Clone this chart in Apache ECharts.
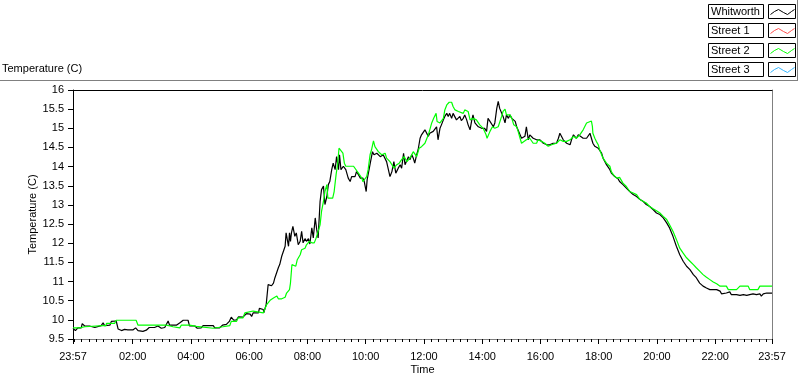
<!DOCTYPE html>
<html>
<head>
<meta charset="utf-8">
<script src="https://cdn.jsdelivr.net/npm/echarts@6/dist/echarts.min.js"></script>
<style>
html,body{margin:0;padding:0;background:#fff;}
#chart{width:800px;height:380px;}
</style>
</head>
<body>
<div id="chart"></div>
<script>
// ---- data (x = minutes since 23:57 start, y = temperature in C) ----
const seriesNames = ['Whitworth', 'Street 1', 'Street 2', 'Street 3'];
const seriesColors = ['#000000', '#ff4d4d', '#00ff00', '#33b5ff'];
const startClockMinutes = 23 * 60 + 57;
const xLabelValues = [0, 123, 243, 363, 483, 603, 723, 843, 963, 1083, 1203, 1323, 1440];
const yTickValues = [9.5, 10, 10.5, 11, 11.5, 12, 12.5, 13, 13.5, 14, 14.5, 15, 15.5, 16];

const whitworth = [
[0,9.78],[5,9.72],[10,9.79],[17,9.79],[19,9.90],[24,9.84],[34,9.84],[38,9.79],[45,9.80],[48,9.85],[58,9.85],[62,9.92],[65,9.85],[76,9.86],[79,9.96],[89,9.97],[93,9.76],[100,9.72],[106,9.75],[113,9.74],[117,9.70],[124,9.74],[129,9.79],[134,9.72],[144,9.70],[151,9.73],[157,9.80],[168,9.80],[175,9.84],[182,9.78],[189,9.80],[196,9.97],[199,9.86],[213,9.86],[221,9.93],[227,9.99],[237,9.99],[240,9.84],[251,9.84],[256,9.78],[264,9.79],[268,9.85],[289,9.85],[292,9.79],[302,9.79],[308,9.86],[316,9.88],[322,9.96],[326,10.07],[331,9.99],[337,10.00],[341,10.08],[350,10.07],
[357,10.16],[365,10.15],[368,10.09],[371,10.18],[382,10.18],[384,10.30],[392,10.27],[393,10.18],[398,10.40],[402,10.92],[406,10.96],[409,10.89],[413,10.96],[416,11.10],[420,11.14],[423,11.36],[426,11.45],[430,11.66],[433,11.70],[437,11.92],[439,12.27],[444,11.92],[446,12.27],[448,12.05],[450,12.27],[453,12.44],[457,12.18],[460,12.27],[464,11.96],[468,12.05],[471,12.31],[474,12.01],[478,12.12],[481,12.05],[485,12.12],[488,11.98],[492,12.40],[495,12.14],[499,12.66],[502,12.36],[505,12.14],[509,13.09],[512,13.40],[516,13.49],[519,13.01],[523,13.22],[526,13.53],[529,13.61],[533,13.92],[536,14.09],[540,13.92],[543,14.26],[547,13.92],[549,14.31],[552,13.92],[557,14.01],[562,13.92],[567,13.70],[571,13.61],[574,13.74],[578,13.70],[581,13.74],[584,13.87],[588,13.79],[592,13.70],[597,13.70],[600,13.61],[604,13.35],[606,13.66],[610,13.61],[613,14.13],[617,14.39],[620,14.31],[626,14.35],[633,14.26],[639,14.31],[646,14.13],[650,14.09],[653,13.74],[657,13.87],[661,14.13],[665,13.83],[670,13.96],[674,14.05],[677,13.96],[681,14.35],[684,14.05],[688,14.09],[691,14.26],[694,14.18],[698,14.31],[701,14.22],[704,14.09],[708,14.31],[711,14.44],[715,14.74],[718,14.83],[722,14.79],[725,14.96],[728,15.00],[732,14.79],[735,14.87],[739,14.83],[742,14.92],[746,14.87],[749,15.04],[752,14.70],[756,15.00],[759,15.09],[763,15.22],[766,15.31],[770,15.39],[773,15.31],[776,15.39],[780,15.26],[783,15.39],[787,15.44],[790,15.22],[794,15.22],[797,15.31],[800,15.20],[804,15.26],[807,15.35],[811,15.22],[814,15.09],[818,14.96],[821,15.18],[824,15.35],[828,15.14],[831,15.18],[835,15.04],[838,15.09],[842,15.00],[845,14.96],[848,15.00],[852,14.92],[855,15.26],[859,15.18],[862,15.14],[866,15.04],[869,15.14],[873,15.52],[876,15.70],[879,15.52],[883,15.48],[886,15.31],[890,15.14],[893,15.35],[897,15.26],[900,15.35],[904,15.26],[907,15.31],[911,15.18],[914,15.04],[917,15.00],[921,14.83],[924,14.74],[928,14.70],[931,14.79],[934,15.04],[938,14.70],[941,14.83],[945,14.79],[948,14.74],[955,14.70],[962,14.70],[969,14.61],[972,14.66],[976,14.57],[979,14.53],[982,14.57],[989,14.61],[996,14.61],[1000,14.74],[1003,14.87],[1007,14.83],[1010,14.70],[1013,14.66],[1017,14.61],[1020,14.57],[1024,14.57],[1027,14.70],[1031,14.83],[1037,14.74],[1041,14.83],[1044,14.80],[1051,14.74],[1058,14.74],[1061,14.79],[1065,14.87],[1068,14.74],[1071,14.61],[1075,14.53],[1078,14.57],[1082,14.48],[1085,14.44],[1089,14.35],[1092,14.22],[1096,14.18],[1099,14.05],[1102,14.05],[1106,13.92],[1109,13.83],[1113,13.79],[1116,13.74],[1120,13.70],[1123,13.68],[1126,13.61],[1130,13.66],[1133,13.53],[1137,13.48],[1140,13.44],[1147,13.35],[1154,13.27],[1161,13.22],[1168,13.14],[1175,13.09],[1181,13.01],[1188,12.96],[1195,12.88],[1202,12.79],[1209,12.75],[1216,12.66],[1223,12.53],[1229,12.40],[1236,12.18],[1243,11.92],[1250,11.70],[1257,11.53],[1264,11.40],[1271,11.31],[1278,11.18],[1284,11.10],[1291,10.96],[1298,10.88],[1305,10.83],[1312,10.79],[1319,10.79],[1326,10.79],[1333,10.75],[1336,10.68],[1339,10.70],[1346,10.70],[1353,10.73],[1356,10.66],[1360,10.70],[1367,10.66],[1374,10.64],[1381,10.66],[1388,10.64],[1394,10.66],[1401,10.68],[1408,10.66],[1415,10.68],[1418,10.62],[1422,10.68],[1429,10.70],[1436,10.70],[1440,10.70]
];

const street1 = [];

const street2 = [
[0,9.79],[14,9.79],[17,9.82],[24,9.82],[27,9.85],[62,9.85],[65,9.82],[68,9.85],[69,9.91],[86,9.91],[89,9.99],[130,9.99],[134,9.86],[192,9.86],[200,9.84],[206,9.82],[210,9.79],[220,9.79],[223,9.86],[240,9.86],[244,9.83],[254,9.83],[256,9.78],[289,9.78],[292,9.82],[309,9.82],[313,9.85],[323,9.85],[326,9.96],[337,9.96],[340,10.05],[350,10.05],[351,10.10],[354,10.18],[358,10.23],[371,10.23],[375,10.18],[392,10.18],[396,10.23],[399,10.40],[406,10.51],[413,10.57],[420,10.62],[423,10.55],[430,10.55],[433,10.59],[437,10.59],[440,10.70],[446,10.79],[448,10.96],[451,11.44],[455,11.49],[459,11.40],[462,11.57],[468,11.70],[471,11.83],[478,11.87],[481,11.96],[487,12.05],[492,12.01],[497,12.01],[499,12.05],[501,12.14],[505,12.14],[509,12.48],[512,12.83],[516,13.09],[519,13.35],[523,13.53],[525,13.18],[535,13.18],[538,13.35],[542,13.79],[545,14.05],[548,14.48],[551,14.44],[556,14.35],[559,14.09],[562,14.01],[565,13.96],[569,14.01],[578,14.01],[581,13.96],[588,13.83],[595,13.70],[597,13.61],[605,13.74],[608,13.92],[612,14.31],[615,14.44],[619,14.67],[622,14.52],[629,14.39],[636,14.31],[643,14.35],[646,14.22],[653,14.13],[657,14.05],[661,13.96],[667,14.05],[672,14.09],[677,14.18],[682,14.26],[688,14.13],[694,14.22],[701,14.39],[708,14.26],[713,14.48],[718,14.52],[725,14.61],[732,14.83],[735,14.96],[739,15.14],[743,15.26],[748,15.39],[750,15.18],[756,15.14],[763,15.26],[766,15.48],[770,15.61],[775,15.68],[780,15.68],[783,15.57],[787,15.48],[790,15.52],[794,15.44],[797,15.39],[804,15.39],[807,15.48],[814,15.44],[818,15.22],[824,15.26],[831,15.22],[838,15.09],[845,15.00],[851,14.83],[853,14.74],[859,14.92],[864,15.04],[869,15.00],[876,15.04],[879,15.09],[883,15.31],[886,15.44],[890,15.50],[893,15.35],[900,15.35],[904,15.26],[908,15.09],[914,15.04],[917,14.92],[921,14.74],[924,14.61],[928,14.61],[934,14.70],[941,14.74],[948,14.61],[955,14.61],[958,14.70],[965,14.66],[972,14.61],[979,14.53],[986,14.57],[996,14.61],[1003,14.70],[1010,14.66],[1017,14.66],[1024,14.70],[1031,14.79],[1037,14.74],[1044,14.83],[1051,14.96],[1058,15.14],[1061,15.19],[1068,15.19],[1070,15.05],[1071,14.87],[1075,14.74],[1078,14.66],[1082,14.57],[1085,14.44],[1089,14.31],[1092,14.22],[1099,14.09],[1106,14.01],[1109,13.87],[1113,13.79],[1120,13.70],[1126,13.72],[1133,13.57],[1140,13.48],[1147,13.35],[1154,13.31],[1161,13.27],[1168,13.14],[1175,13.09],[1181,13.05],[1188,12.96],[1195,12.90],[1202,12.85],[1209,12.79],[1216,12.70],[1223,12.62],[1229,12.48],[1236,12.31],[1243,12.10],[1250,11.87],[1257,11.74],[1264,11.62],[1271,11.53],[1278,11.44],[1284,11.36],[1291,11.27],[1298,11.18],[1305,11.11],[1312,11.05],[1319,10.99],[1326,10.94],[1333,10.88],[1346,10.88],[1350,10.79],[1367,10.79],[1374,10.88],[1391,10.88],[1394,10.79],[1411,10.79],[1415,10.88],[1440,10.88]
];

const street3 = [];

// ---- helpers ----
const FONT = 'Liberation Sans';
function clockLabel(m) {
  const t = ((Math.round(m) + startClockMinutes) % 1440 + 1440) % 1440;
  const h = Math.floor(t / 60), mm = t % 60;
  return (h < 10 ? '0' : '') + h + ':' + (mm < 10 ? '0' : '') + mm;
}
const minorTickValues = [];
for (let k = 0; k * 15 + 3 < 1440; k++) minorTickValues.push(k * 15 + 3);

// legend drawn as LabVIEW-style boxes
const legendGraphics = [];
const iconShape = [[2, 10], [6, 7], [10, 5], [15, 8], [19, 10], [23, 7], [26, 5]];
seriesNames.forEach(function (name, i) {
  const top = Math.round(4 + i * 19.3) + 0.5;
  legendGraphics.push({ type: 'rect', shape: { x: 708.5, y: top, width: 55, height: 14 }, style: { fill: '#fff', stroke: '#000', lineWidth: 1 }, silent: true });
  legendGraphics.push({ type: 'text', x: 711, y: top + 7.5, style: { text: name, font: '11px "' + FONT + '"', fill: '#000', verticalAlign: 'middle', align: 'left' }, silent: true });
  legendGraphics.push({ type: 'rect', shape: { x: 768.5, y: top, width: 27, height: 14 }, style: { fill: '#fff', stroke: '#000', lineWidth: 1 }, silent: true });
  legendGraphics.push({ type: 'polyline', shape: { points: iconShape.map(function (p) { return [768.5 + p[0], top + p[1]]; }) }, style: { stroke: seriesColors[i], fill: null, lineWidth: 1 }, silent: true });
});
// outer frame lines
legendGraphics.push({ type: 'line', shape: { x1: 0, y1: 80.5, x2: 798, y2: 80.5 }, style: { stroke: '#808080', lineWidth: 1 }, silent: true });
legendGraphics.push({ type: 'line', shape: { x1: 797.5, y1: 0, x2: 797.5, y2: 80 }, style: { stroke: '#808080', lineWidth: 1 }, silent: true });

const axisText = { color: '#000', fontSize: 11, fontFamily: FONT };

const chart = echarts.init(document.getElementById('chart'), null, { renderer: 'canvas' });
chart.setOption({
  animation: false,
  backgroundColor: '#ffffff',
  title: { text: 'Temperature (C)', left: 2, top: 63, padding: 0, textStyle: { color: '#000', fontSize: 11, fontWeight: 'normal', fontFamily: FONT } },
  grid: { left: 73, top: 90, width: 699, height: 250, show: false, containLabel: false },
  xAxis: [
    {
      type: 'value', min: 0, max: 1440, position: 'bottom',
      axisLine: { show: true, onZero: false, lineStyle: { color: '#808080', width: 1 } },
      axisTick: { show: true, customValues: xLabelValues, length: 5, lineStyle: { color: '#000' } },
      axisLabel: { customValues: xLabelValues, formatter: clockLabel, margin: 12, showMinLabel: true, showMaxLabel: true, hideOverlap: false, ...axisText },
      splitLine: { show: false },
      name: 'Time', nameLocation: 'middle', nameGap: 25, nameMoveOverlap: false, nameTextStyle: axisText
    },
    {
      type: 'value', min: 0, max: 1440, position: 'bottom',
      axisLine: { show: false, onZero: false },
      axisTick: { show: true, customValues: minorTickValues, length: 3, lineStyle: { color: '#000' } },
      axisLabel: { show: false },
      splitLine: { show: false }
    },
    {
      type: 'value', min: 0, max: 1440, position: 'top',
      axisLine: { show: true, onZero: false, lineStyle: { color: '#000', width: 1 } },
      axisTick: { show: false }, axisLabel: { show: false }, splitLine: { show: false }
    }
  ],
  yAxis: [
    {
      type: 'value', min: 9.5, max: 16, interval: 0.5, position: 'left',
      axisLine: { show: true, onZero: false, lineStyle: { color: '#000', width: 1 } },
      axisTick: { show: true, length: 5, lineStyle: { color: '#000' } },
      axisLabel: { margin: 9, ...axisText, formatter: function (v) { return String(v); } },
      splitLine: { show: false },
      name: 'Temperature (C)', nameLocation: 'middle', nameGap: 35, nameRotate: 90, nameMoveOverlap: false, nameTextStyle: axisText
    },
    {
      type: 'value', min: 9.5, max: 16, position: 'right',
      axisLine: { show: true, onZero: false, lineStyle: { color: '#808080', width: 1 } },
      axisTick: { show: false }, axisLabel: { show: false }, splitLine: { show: false }
    }
  ],
  series: [whitworth, street1, street2, street3].map(function (d, i) {
    return {
      name: seriesNames[i], type: 'line', data: d, xAxisIndex: 0, yAxisIndex: 0,
      showSymbol: false, symbol: 'none', smooth: false,
      lineStyle: { color: seriesColors[i], width: 1.2 },
      itemStyle: { color: seriesColors[i] },
      z: 2 + i
    };
  }),
  graphic: { elements: legendGraphics }
});
</script>
</body>
</html>
